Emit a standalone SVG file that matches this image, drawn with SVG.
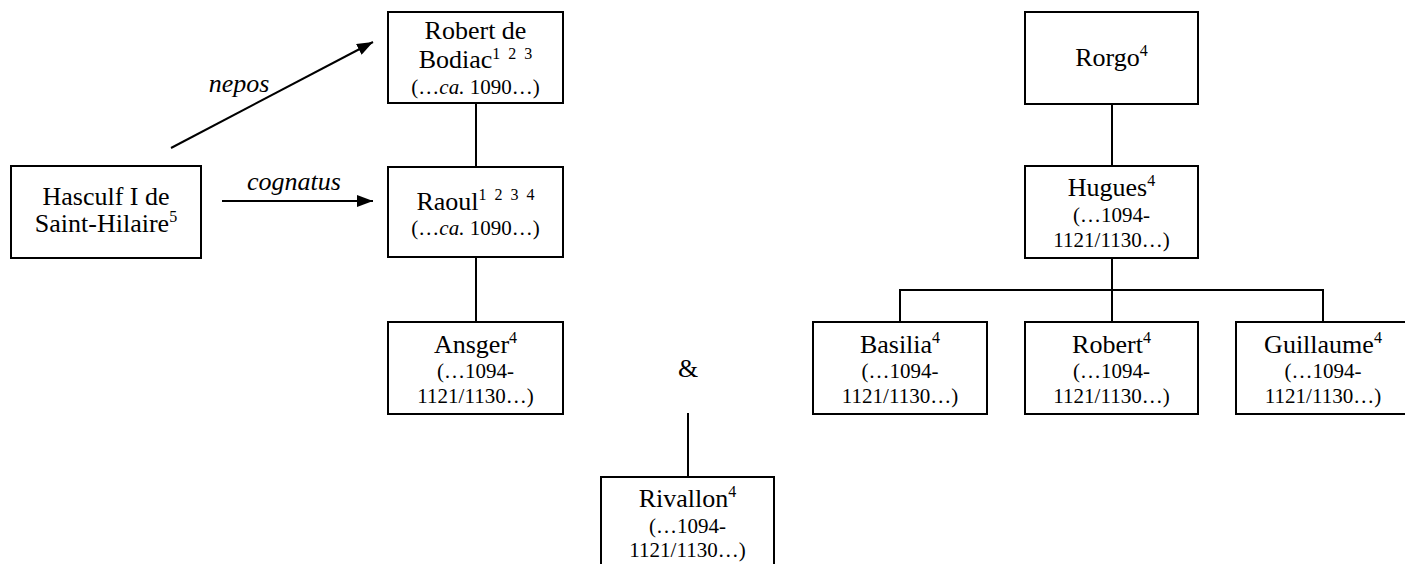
<svg xmlns="http://www.w3.org/2000/svg" width="1405" height="564" viewBox="0 0 1405 564">
<defs>
<style>
.box{fill:#fff;stroke:#000;stroke-width:2}
.n{font-family:"Liberation Serif","DejaVu Serif",serif;font-size:26px;text-anchor:middle;fill:#000}
.d{font-family:"Liberation Serif","DejaVu Serif",serif;font-size:21px;text-anchor:middle;fill:#000}
.lbl{font-family:"Liberation Serif","DejaVu Serif",serif;font-size:26px;font-style:italic;text-anchor:middle;fill:#000}
.sup{font-size:16px;fill:#000}
.ln{stroke:#000;stroke-width:2;fill:none}
</style>
<marker id="arrh" viewBox="0 0 16 12" refX="16" refY="6" markerWidth="16" markerHeight="12" markerUnits="userSpaceOnUse" orient="auto">
<path d="M0,0 L16,6 L0,12 z" fill="#000"/>
</marker>
</defs>
<rect width="1405" height="564" fill="#fff"/>
<g id="connectors">
<line class="ln" x1="171" y1="148" x2="373" y2="42" marker-end="url(#arrh)"/>
<line class="ln" x1="222" y1="201" x2="373" y2="201" marker-end="url(#arrh)"/>
<line class="ln" x1="476" y1="103" x2="476" y2="167"/>
<line class="ln" x1="476" y1="257" x2="476" y2="322"/>
<line class="ln" x1="688" y1="413" x2="688" y2="477"/>
<line class="ln" x1="1112" y1="104" x2="1112" y2="166"/>
<line class="ln" x1="1112" y1="258" x2="1112" y2="322"/>
<polyline class="ln" points="900,322 900,290 1323,290 1323,322"/>
<text class="lbl" x="239" y="92">nepos</text>
<text class="lbl" x="294" y="190">cognatus</text>
</g>
<g id="hasculf">
<rect class="box" x="11" y="166" width="190" height="92"/>
<text class="n" x="106" y="205">Hasculf I de</text>
<text class="n" x="106" y="232">Saint-Hilaire<tspan class="sup" dy="-10">5</tspan></text>
</g>
<g id="robert-de-bodiac">
<rect class="box" x="388" y="12" width="175" height="91"/>
<text class="n" x="475.5" y="39">Robert de</text>
<text class="n" x="475.5" y="68">Bodiac<tspan class="sup" dy="-9" font-size="15" xml:space="preserve">1  2  3</tspan></text>
<text class="d" x="475.5" y="94">(…<tspan font-style="italic">ca.</tspan> 1090…)</text>
</g>
<g id="raoul">
<rect class="box" x="388" y="167" width="175" height="90"/>
<text class="n" x="475.5" y="210">Raoul<tspan class="sup" dy="-10" xml:space="preserve">1  2  3  4</tspan></text>
<text class="d" x="475.5" y="235">(…<tspan font-style="italic">ca.</tspan> 1090…)</text>
</g>
<g id="ansger">
<rect class="box" x="388" y="322" width="175" height="92"/>
<text class="n" x="475.5" y="353">Ansger<tspan class="sup" dy="-10">4</tspan></text>
<text class="d" x="475.5" y="378">(…1094-</text>
<text class="d" x="475.5" y="403">1121/1130…)</text>
</g>
<g id="amp">
<text class="n" x="688" y="377">&amp;</text>
</g>
<g id="rivallon">
<rect class="box" x="601" y="477" width="173" height="100"/>
<text class="n" x="687.5" y="507">Rivallon<tspan class="sup" dy="-10">4</tspan></text>
<text class="d" x="687.5" y="533">(…1094-</text>
<text class="d" x="687.5" y="557">1121/1130…)</text>
</g>
<g id="rorgo">
<rect class="box" x="1025" y="12" width="173" height="92"/>
<text class="n" x="1111.5" y="66">Rorgo<tspan class="sup" dy="-10">4</tspan></text>
</g>
<g id="hugues">
<rect class="box" x="1025" y="166" width="173" height="92"/>
<text class="n" x="1111.5" y="196">Hugues<tspan class="sup" dy="-10">4</tspan></text>
<text class="d" x="1111.5" y="222">(…1094-</text>
<text class="d" x="1111.5" y="247">1121/1130…)</text>
</g>
<g id="basilia">
<rect class="box" x="813" y="322" width="174" height="92"/>
<text class="n" x="900" y="353">Basilia<tspan class="sup" dy="-10">4</tspan></text>
<text class="d" x="900" y="378">(…1094-</text>
<text class="d" x="900" y="403">1121/1130…)</text>
</g>
<g id="robert">
<rect class="box" x="1025" y="322" width="173" height="92"/>
<text class="n" x="1111.5" y="353">Robert<tspan class="sup" dy="-10">4</tspan></text>
<text class="d" x="1111.5" y="378">(…1094-</text>
<text class="d" x="1111.5" y="403">1121/1130…)</text>
</g>
<g id="guillaume">
<rect class="box" x="1236" y="322" width="174" height="92"/>
<text class="n" x="1323" y="353">Guillaume<tspan class="sup" dy="-10">4</tspan></text>
<text class="d" x="1323" y="378">(…1094-</text>
<text class="d" x="1323" y="403">1121/1130…)</text>
</g>
</svg>
